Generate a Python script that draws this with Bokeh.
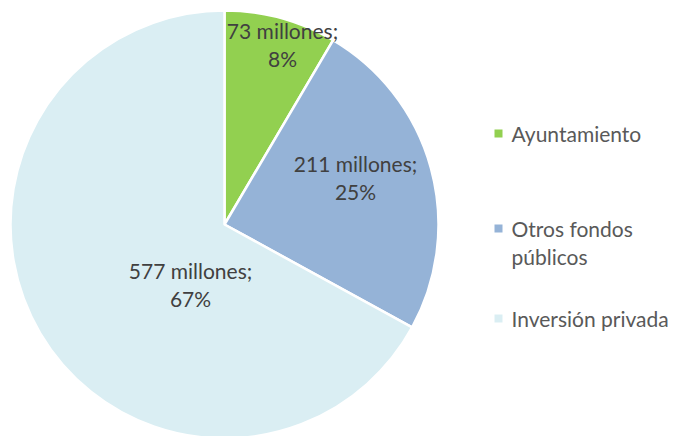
import math
from bokeh.plotting import figure
from bokeh.models import Range1d
from bokeh.core.properties import value
from bokeh.embed import file_html
from bokeh.resources import INLINE

categories = ["Ayuntamiento", "Otros fondos públicos", "Inversión privada"]
legend_lines = [["Ayuntamiento"], ["Otros fondos", "públicos"], ["Inversión privada"]]
values = [73, 211, 577]
percents = [8, 25, 67]
colors = ["#92D050", "#95B3D7", "#DAEEF3"]

W, H = 680, 436
FONT = "Lato"
FS = "21px"
p = figure(width=W, height=H, output_backend="svg", toolbar_location=None,
           x_range=Range1d(0, W), y_range=Range1d(0, H), min_border=0)
p.axis.visible = False
p.grid.visible = False
p.outline_line_color = None
p.background_fill_color = "white"
p.border_fill_color = "white"

cx, cy, R = 224, H - 224, 214
total = sum(values)
start = math.pi / 2
starts, ends = [], []
for v in values:
    a = 2 * math.pi * v / total
    starts.append(start - a)
    ends.append(start)
    start -= a
p.wedge(x=[cx] * 3, y=[cy] * 3, radius=R, start_angle=starts, end_angle=ends,
        fill_color=colors, line_color="white", line_width=2.5)

# data labels (layout positions in pixels from top-left)
label_pos = [(282, 30), (355, 163), (190, 270)]
for (lx, ly), v, pc in zip(label_pos, values, percents):
    p.text(x=[lx, lx], y=[H - ly, H - ly - 28], text=[f"{v} millones;", f"{pc}%"],
           text_font=value(FONT), text_font_size=FS, text_color="#404040",
           text_align="center", text_baseline="middle")

# legend
leg_y = [133, 228, 318]
for lines, c, ly in zip(legend_lines, colors, leg_y):
    p.scatter(x=[498], y=[H - ly], marker="square", size=8, fill_color=c, line_color=None)
    p.text(x=[511] * len(lines), y=[H - ly - 28 * i for i in range(len(lines))], text=lines,
           text_font=value(FONT), text_font_size=FS, text_color="#595959",
           text_align="left", text_baseline="middle")

open("out.html", "w").write(file_html(p, INLINE))
